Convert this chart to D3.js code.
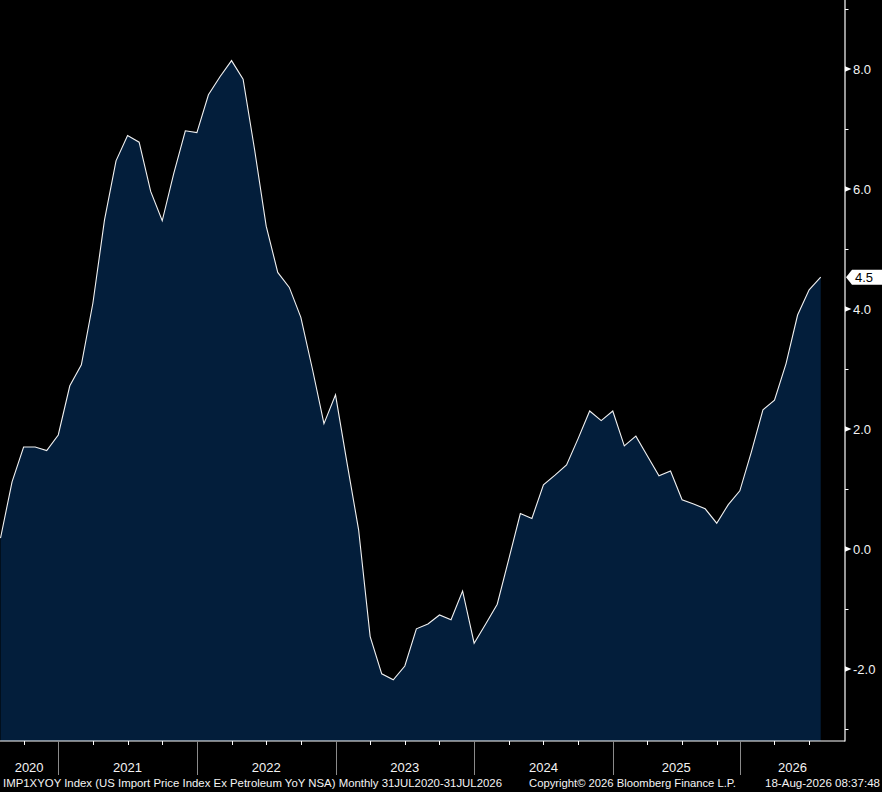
<!DOCTYPE html>
<html>
<head>
<meta charset="utf-8">
<script src="https://cdn.jsdelivr.net/npm/d3@7"></script>
<style>
html,body{margin:0;padding:0;background:#000;}
svg{display:block;}
text{font-family:"Liberation Sans",Arial,sans-serif;}
</style>
</head>
<body>
<svg id="chart" width="882" height="792"></svg>
<script>
// Monthly observations (Oct 2025 not published)
const months = [
 "2020-07","2020-08","2020-09","2020-10","2020-11","2020-12",
 "2021-01","2021-02","2021-03","2021-04","2021-05","2021-06","2021-07","2021-08","2021-09","2021-10","2021-11","2021-12",
 "2022-01","2022-02","2022-03","2022-04","2022-05","2022-06","2022-07","2022-08","2022-09","2022-10","2022-11","2022-12",
 "2023-01","2023-02","2023-03","2023-04","2023-05","2023-06","2023-07","2023-08","2023-09","2023-10","2023-11","2023-12",
 "2024-01","2024-02","2024-03","2024-04","2024-05","2024-06","2024-07","2024-08","2024-09","2024-10","2024-11","2024-12",
 "2025-01","2025-02","2025-03","2025-04","2025-05","2025-06","2025-07","2025-08","2025-09","2025-11","2025-12",
 "2026-01","2026-02","2026-03","2026-04","2026-05","2026-06","2026-07"
];
const values = [
 0.18,1.12,1.70,1.70,1.64,1.90,
 2.72,3.07,4.10,5.48,6.47,6.89,6.78,5.96,5.47,6.26,6.97,6.94,
 7.57,7.87,8.14,7.83,6.65,5.38,4.61,4.36,3.86,3.00,2.09,2.57,
 1.43,0.32,-1.46,-2.08,-2.18,-1.95,-1.33,-1.25,-1.10,-1.18,-0.70,-1.57,
 -1.25,-0.92,-0.17,0.59,0.51,1.07,1.23,1.40,1.84,2.30,2.14,2.30,
 1.72,1.88,1.55,1.22,1.30,0.82,0.75,0.67,0.43,0.74,0.97,
 1.62,2.32,2.48,3.09,3.90,4.32,4.53
];
const years = ["2020","2021","2022","2023","2024","2025","2026"];
const yMajorTicks = [-2,0,2,4,6,8];
const yMinorTicks = [-3,-1,1,3,5,7,9];
const lastLabel = "4.5";
const footerLeft = "IMP1XYOY Index (US Import Price Index Ex Petroleum YoY NSA) Monthly 31JUL2020-31JUL2026";
const footerMid = "Copyright\u00a9 2026 Bloomberg Finance L.P.";
const footerRight = "18-Aug-2026 08:37:48";

const data = months.map((m,i)=>({m, v: values[i]}));

const svg = d3.select("#chart");
const axisX = 845, baseY = 741;

const x = d3.scalePoint().domain(months).range([0.5, 820.7]);
const y = d3.scaleLinear().domain([-3.2, 9.15]).range([baseY, 0]);

// area + line
svg.append("path").datum(data)
  .attr("fill", "#031e3b")
  .attr("d", d3.area().x(d=>x(d.m)).y0(baseY).y1(d=>y(d.v)));
svg.append("path").datum(data)
  .attr("fill", "none").attr("stroke", "#f2f2f2").attr("stroke-width", 1.1)
  .attr("stroke-linejoin","miter")
  .attr("d", d3.line().x(d=>x(d.m)).y(d=>y(d.v)));

// y axis
svg.append("line").attr("x1", axisX).attr("x2", axisX).attr("y1", 0).attr("y2", baseY+0.5)
  .attr("stroke", "#fff").attr("stroke-width", 1.2);
svg.selectAll(".ymin").data(yMinorTicks).join("line")
  .attr("x1", axisX).attr("x2", axisX+3.5)
  .attr("y1", d=>Math.round(y(d))+0.5).attr("y2", d=>Math.round(y(d))+0.5)
  .attr("stroke", "#fff").attr("stroke-width", 1);
const fmt = d => (d<0?"-":"") + Math.abs(d).toFixed(1);
svg.selectAll(".ytri").data(yMajorTicks).join("path")
  .attr("d", d=>{const yy=y(d); return `M${axisX},${yy-2.8}L${axisX+6.5},${yy}L${axisX},${yy+2.8}Z`;})
  .attr("fill", "#fff");
svg.selectAll(".ylab").data(yMajorTicks).join("text")
  .attr("x", d => d<0 ? 853 : 853).attr("y", d=>y(d))
  .attr("dy", "0.36em")
  .attr("fill", "#f4f4f4").attr("font-size", 13)
  .text(fmt);

// last value marker
const ly = y(values[values.length-1]);
svg.append("path")
  .attr("d", `M846,${ly}L852,${ly-7.5}L882,${ly-7.5}L882,${ly+7.5}L852,${ly+7.5}Z`)
  .attr("fill", "#fff");
svg.append("text").attr("x", 855).attr("y", ly).attr("dy","0.36em")
  .attr("fill", "#000").attr("font-size", 13).text(lastLabel);

// x axis
svg.append("line").attr("x1", 0).attr("x2", axisX).attr("y1", baseY).attr("y2", baseY)
  .attr("stroke", "#fff").attr("stroke-width", 1.2);
const quarterTicks = months.filter(m => ["03","06","09"].includes(m.slice(5)));
svg.selectAll(".qt").data(quarterTicks).join("line")
  .attr("x1", d=>Math.round(x(d))+0.5).attr("x2", d=>Math.round(x(d))+0.5)
  .attr("y1", baseY).attr("y2", baseY+4)
  .attr("stroke", "#fff").attr("stroke-width", 1);
const decs = months.filter(m => m.slice(5)==="12");
svg.selectAll(".sep").data(decs).join("line")
  .attr("x1", d=>Math.round(x(d))+0.5).attr("x2", d=>Math.round(x(d))+0.5)
  .attr("y1", baseY).attr("y2", 775)
  .attr("stroke", "#8a8a8a").attr("stroke-width", 1);
const bounds = [0, ...decs.map(d=>x(d)), axisX];
svg.selectAll(".yr").data(years).join("text")
  .attr("x", (d,i)=>(bounds[i]+bounds[i+1])/2).attr("y", 772)
  .attr("text-anchor","middle").attr("fill","#f4f4f4").attr("font-size",13)
  .text(d=>d);

// footer
svg.append("text").attr("x", 3).attr("y", 787).attr("fill","#f4f4f4").attr("font-size",11)
  .attr("textLength", 499).attr("lengthAdjust","spacingAndGlyphs").text(footerLeft);
svg.append("text").attr("x", 529).attr("y", 787).attr("fill","#f4f4f4").attr("font-size",11)
  .attr("textLength", 207).attr("lengthAdjust","spacingAndGlyphs").text(footerMid);
svg.append("text").attr("x", 765).attr("y", 787).attr("fill","#f4f4f4").attr("font-size",11)
  .attr("textLength", 115).attr("lengthAdjust","spacingAndGlyphs").text(footerRight);
</script>
</body>
</html>
